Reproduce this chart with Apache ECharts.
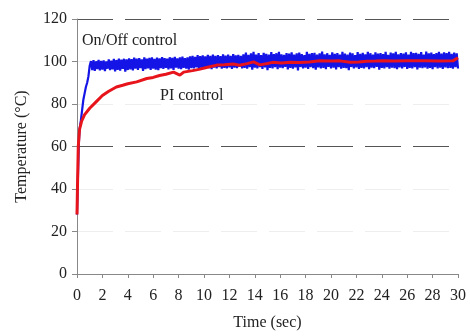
<!DOCTYPE html>
<html>
<head>
<meta charset="utf-8">
<script src="https://cdn.jsdelivr.net/npm/echarts@6/dist/echarts.min.js"></script>
<style>
  html, body { margin: 0; padding: 0; background: #fff; }
  #chart { width: 470px; height: 336px; }
</style>
</head>
<body>
<div id="chart"></div>
<script>
// Tick labels
const xTicks = [0, 2, 4, 6, 8, 10, 12, 14, 16, 18, 20, 22, 24, 26, 28, 30];
const yTicks = [0, 20, 40, 60, 80, 100, 120];

// On/Off control: initial heat-up (time in s, temperature in °C)
const onOffRiseTime = [0, 0.05, 0.1, 0.15, 0.2, 0.3, 0.4, 0.5, 0.6, 0.7, 0.8, 0.9, 1.0];
const onOffRiseTemp = [28, 40, 52, 62, 68, 72, 77, 82, 85, 88, 90, 93, 98];

// On/Off control: switching around the set point, sampled every 0.1 s from 1.1 s
const onOffBandStart = 1.1;
const onOffBandStep = 0.1;
const onOffBandTemp = [
  100.2, 96.0, 100.6, 95.6, 100.1, 96.4, 100.8, 95.8, 100.3, 96.2,
  100.5, 95.5, 100.0, 96.6, 101.0, 95.9, 100.4, 96.3, 101.2, 95.4,
  100.7, 96.1, 101.4, 95.7, 100.9, 96.5, 101.3, 95.2, 101.0, 96.0,
  101.5, 96.3, 101.1, 95.8, 101.8, 96.6, 101.3, 96.0, 101.6, 96.9,
  101.0, 95.6, 101.9, 96.4, 101.4, 96.8, 101.7, 96.1, 102.0, 96.7,
  101.2, 96.2, 101.8, 95.9, 101.5, 96.9, 102.1, 96.5, 101.6, 97.0,
  101.3, 96.3, 102.0, 96.8, 101.7, 96.0, 102.2, 97.1, 101.5, 96.6,
  101.9, 96.4, 102.3, 97.0, 101.6, 96.7, 102.0, 96.2, 102.4, 96.9,
  102.6, 96.8, 102.2, 97.2, 103.0, 96.5, 102.5, 97.0, 102.9, 96.6,
  102.4, 97.3, 103.1, 96.9, 102.7, 96.4, 103.3, 97.1, 102.6, 96.7,
  103.0, 97.4, 102.5, 96.6, 103.4, 97.0, 102.8, 96.8, 103.2, 97.2,
  102.7, 96.5, 103.5, 97.1, 102.9, 96.9, 103.1, 97.5, 102.6, 96.7,
  103.4, 97.0, 104.2, 96.6, 103.1, 97.3, 103.8, 96.2, 104.5, 97.1,
  103.3, 96.8, 103.9, 97.4, 103.0, 96.5, 104.1, 97.2, 103.6, 95.9,
  103.2, 97.0, 104.4, 96.7, 103.5, 97.3, 103.9, 96.4, 104.6, 97.1,
  103.4, 96.9, 103.1, 97.5, 104.0, 96.3, 103.7, 97.0, 104.3, 96.6,
  103.2, 97.2, 103.8, 95.8, 104.2, 97.4, 103.5, 96.8, 103.0, 97.1,
  104.5, 96.5, 103.6, 97.3, 103.9, 96.9, 104.1, 96.2, 103.3, 97.2,
  103.8, 96.7, 104.7, 97.0, 103.4, 96.4, 103.9, 97.5, 103.1, 96.8,
  104.3, 97.1, 103.6, 96.3, 104.0, 97.3, 103.2, 96.6, 104.5, 97.0,
  103.7, 96.9, 103.3, 95.9, 104.2, 97.4, 103.8, 96.7, 103.0, 97.2,
  104.4, 96.5, 103.6, 97.0, 104.1, 96.8, 103.4, 97.3, 104.6, 96.4,
  103.9, 97.1, 103.2, 96.9, 104.3, 97.5, 103.7, 96.2, 104.0, 97.0,
  103.5, 96.7, 104.5, 97.3, 103.1, 96.6, 104.2, 97.1, 103.8, 96.9,
  104.6, 96.4, 103.4, 97.2, 104.0, 96.8, 103.7, 97.4, 104.3, 96.5,
  103.2, 97.0, 104.5, 96.7, 103.9, 97.3, 104.1, 96.3, 103.6, 97.1,
  104.4, 96.9, 103.3, 97.2, 104.7, 96.6, 103.8, 97.0, 104.2, 96.4,
  103.5, 97.3, 104.0, 96.8, 104.6, 97.1, 103.7, 96.5, 104.3, 97.2,
  103.9, 96.9, 104.5, 97.0, 103.6, 96.6, 104.2, 97.3, 103.8, 96.7
];

// PI control response
const piTime = [0, 0.05, 0.1, 0.2, 0.37, 0.6, 1.0, 1.5, 2.0, 2.5, 3.1, 3.6, 4.0, 4.7, 5.5,
  6.0, 6.5, 7.0, 7.6, 8.1, 8.4, 9.1, 9.6, 10.2, 11.0, 11.6, 12.3, 12.8, 13.4, 13.9, 14.4,
  15.0, 15.4, 16.1, 16.8, 17.5, 18.3, 19.1, 20.0, 20.7, 21.5, 22.2, 22.8, 23.5, 24.1,
  25.0, 26.0, 27.4, 28.5, 29.6, 30.0];
const piTemp = [28, 45, 60, 68, 72, 75, 78, 81, 84, 86, 88, 88.8, 89.5, 90.4, 92,
  92.5, 93.4, 94, 95, 93.6, 95, 95.7, 96.3, 97.2, 98.3, 98.5, 98.8, 98.2, 99, 99.8, 98.4,
  99.1, 99.6, 99.3, 99.7, 99.5, 99.8, 100.3, 100.2, 100.3, 99.6, 99.8, 100.1, 100.2, 100.3,
  100.2, 100.3, 100.3, 100.2, 100.3, 101.8];

const onOffData = onOffRiseTime.map((t, i) => [t, onOffRiseTemp[i]]);
onOffBandTemp.forEach((v, i) => {
  onOffData.push([+(onOffBandStart + i * onOffBandStep).toFixed(2), v]);
});
const piData = piTime.map((t, i) => [t, piTemp[i]]);

const serif = 'Liberation Serif, Times New Roman, serif';
const textColor = '#222';

const chart = echarts.init(document.getElementById('chart'), null, { renderer: 'canvas' });
chart.setOption({
  animation: false,
  backgroundColor: '#fff',
  grid: { left: 77, right: 12, top: 19, bottom: 57 },
  xAxis: {
    type: 'value',
    min: xTicks[0],
    max: xTicks[xTicks.length - 1],
    interval: xTicks[1] - xTicks[0],
    name: 'Time (sec)',
    nameLocation: 'middle',
    nameGap: 41,
    nameTextStyle: { fontFamily: serif, fontSize: 16, color: textColor },
    axisLine: { lineStyle: { color: '#888', width: 1 } },
    axisTick: { show: true, inside: false, length: 4, lineStyle: { color: '#888' } },
    axisLabel: { fontFamily: serif, fontSize: 16, color: textColor, margin: 14 },
    splitLine: { show: false }
  },
  yAxis: {
    type: 'value',
    min: yTicks[0],
    max: yTicks[yTicks.length - 1],
    interval: yTicks[1] - yTicks[0],
    name: 'Temperature (°C)',
    nameLocation: 'middle',
    nameGap: 47,
    nameTextStyle: { fontFamily: serif, fontSize: 16, color: textColor },
    axisLine: { show: true, lineStyle: { color: '#888', width: 1 } },
    axisTick: { show: true, inside: false, length: 5, lineStyle: { color: '#888' } },
    axisLabel: { fontFamily: serif, fontSize: 16, color: textColor, margin: 10 },
    splitLine: {
      show: true,
      lineStyle: {
        color: ['#888', '#eeeeee', '#eeeeee', '#555', '#eeeeee', '#eeeeee', '#555'],
        width: 1,
        type: [36, 12]
      }
    }
  },
  series: [
    {
      name: 'On/Off control',
      type: 'line',
      data: onOffData,
      showSymbol: false,
      lineStyle: { color: '#1414e6', width: 2.2 },
      z: 2
    },
    {
      name: 'PI control',
      type: 'line',
      data: piData,
      showSymbol: false,
      smooth: false,
      lineStyle: { color: '#e8141c', width: 3 },
      z: 3
    }
  ],
  graphic: [
    {
      type: 'text', left: 82, top: 33,
      style: { text: 'On/Off control', font: '16px ' + serif, fill: textColor }
    },
    {
      type: 'text', left: 160, top: 88,
      style: { text: 'PI control', font: '16px ' + serif, fill: textColor }
    }
  ]
});
</script>
</body>
</html>
